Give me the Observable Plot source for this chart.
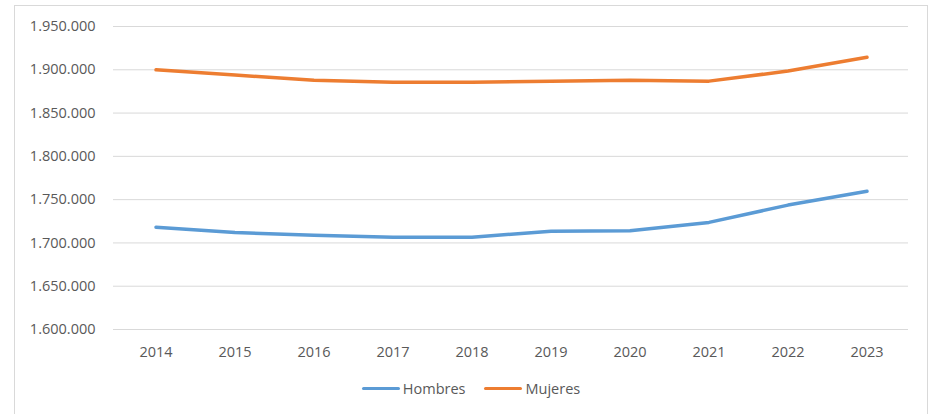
<!DOCTYPE html>
<html>
<head>
<meta charset="utf-8">
<script src="https://cdn.jsdelivr.net/npm/d3@7"></script>
<script src="https://cdn.jsdelivr.net/npm/@observablehq/plot@0.6"></script>
<style>
  html, body { margin: 0; padding: 0; background: #fff; width: 931px; height: 414px; overflow: hidden; }
  #frame { position: absolute; left: 14px; top: 5px; width: 912px; height: 430px; border: 1px solid #d9d9d9; background: #fff; }
  #chart svg { display: block; }
  #legend { display: flex; justify-content: center; align-items: center; margin-top: 13px; font-family: "Open Sans", sans-serif; font-size: 14.5px; color: #595959; padding-left: 0px; }
  .item { display: flex; align-items: center; }
  .sw { width: 38px; height: 3.5px; border-radius: 2px; margin-right: 3px; }
  .item + .item { margin-left: 19px; }
</style>
</head>
<body>
<div id="frame">
  <div id="chart"></div>
  <div id="legend"></div>
</div>
<script>
const years = ["2014","2015","2016","2017","2018","2019","2020","2021","2022","2023"];
const hombres = [1718200, 1712000, 1709000, 1706600, 1706600, 1713500, 1714000, 1723700, 1743700, 1759600];
const mujeres = [1900000, 1893900, 1888000, 1885700, 1885700, 1886900, 1888000, 1886900, 1898500, 1914400];
const seriesNames = ["Hombres", "Mujeres"];
const seriesColors = ["#5B9BD5", "#ED7D31"];
const yTicks = [1600000, 1650000, 1700000, 1750000, 1800000, 1850000, 1900000, 1950000];

const data = [
  ...years.map((y, i) => ({year: y, value: hombres[i], serie: seriesNames[0]})),
  ...years.map((y, i) => ({year: y, value: mujeres[i], serie: seriesNames[1]}))
];

const fmt = d3.formatLocale({decimal: ",", thousands: ".", grouping: [3], currency: ["", " €"]}).format(",");

const chart = Plot.plot({
  width: 912,
  height: 360,
  marginLeft: 98,
  marginRight: 19,
  marginTop: 20,
  marginBottom: 37,
  style: {fontFamily: "'Open Sans', sans-serif", fontSize: "14.5px", color: "#595959", background: "#fff"},
  x: {type: "band", domain: years, padding: 0, label: null, tickSize: 0, tickPadding: 17},
  y: {domain: [1600000, 1950000], ticks: yTicks, tickFormat: fmt, label: null, tickSize: 0, tickPadding: 18},
  color: {domain: seriesNames, range: seriesColors},
  marks: [
    Plot.ruleY(yTicks, {stroke: "#d9d9d9", strokeWidth: 1}),
    Plot.line(data, {x: "year", y: "value", z: "serie", stroke: "serie", strokeWidth: 3.5, strokeLinecap: "round", strokeLinejoin: "round"})
  ]
});
document.getElementById("chart").appendChild(chart);

const legend = document.getElementById("legend");
seriesNames.forEach((n, i) => {
  const it = document.createElement("div");
  it.className = "item";
  const sw = document.createElement("div");
  sw.className = "sw";
  sw.style.background = seriesColors[i];
  const t = document.createElement("span");
  t.textContent = n;
  it.appendChild(sw); it.appendChild(t);
  legend.appendChild(it);
});
</script>
</body>
</html>
